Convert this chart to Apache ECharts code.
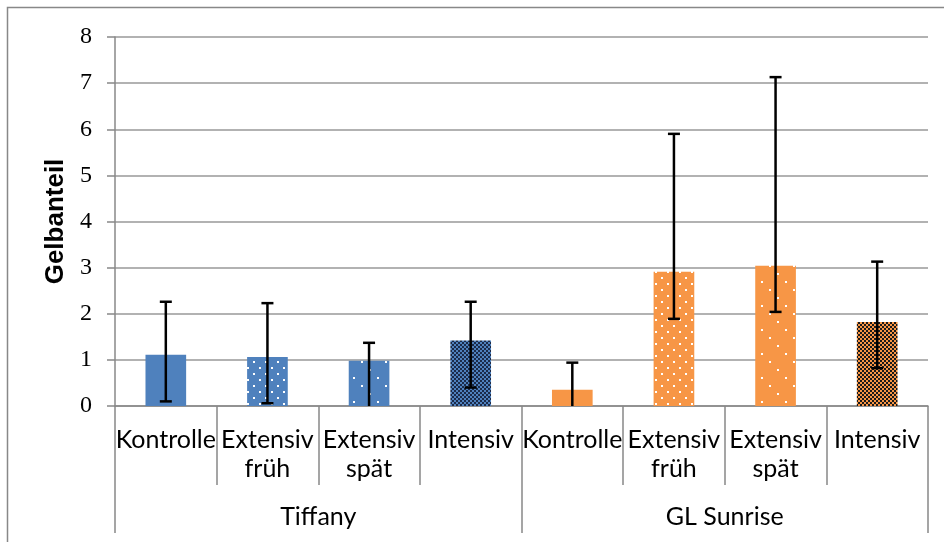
<!DOCTYPE html>
<html>
<head>
<meta charset="utf-8">
<script src="https://cdn.jsdelivr.net/npm/echarts@6/dist/echarts.min.js"></script>
<style>
  html, body { margin: 0; padding: 0; background: #fff; }
  #chart { width: 944px; height: 542px; }
</style>
</head>
<body>
<div id="chart"></div>
<script>
// Treatments per variety and group names
const categories = ['Kontrolle', 'Extensiv\nfrüh', 'Extensiv\nspät', 'Intensiv',
                    'Kontrolle', 'Extensiv\nfrüh', 'Extensiv\nspät', 'Intensiv'];
const groups = ['Tiffany', 'GL Sunrise'];

// Mean yellow share and lower / upper ends of the error bars
const values = [1.11, 1.06, 0.98, 1.42, 0.35, 2.91, 3.04, 1.82];
const errLow = [0.10, 0.06, -0.10, 0.40, -0.24, 1.89, 2.04, 0.82];
const errHigh = [2.26, 2.23, 1.37, 2.26, 0.94, 5.90, 7.13, 3.13];

const yTicks = { min: 0, max: 8, interval: 1 };

const BLUE = '#4F81BD';
const ORANGE = '#F79646';

// Tiled fills: solid, fine dots, sparse dots, checkerboard
function makeTile(w, h, draw) {
  const c = document.createElement('canvas');
  c.width = w; c.height = h;
  const ctx = c.getContext('2d');
  draw(ctx);
  return { image: c, repeat: 'repeat' };
}
function dots(base, size, pts) {
  return makeTile(size, size, ctx => {
    ctx.fillStyle = base; ctx.fillRect(0, 0, size, size);
    ctx.fillStyle = '#fff';
    pts.forEach(p => ctx.fillRect(p[0], p[1], 2, 2));
  });
}
function checker(base, dark) {
  return makeTile(4, 4, ctx => {
    ctx.fillStyle = base; ctx.fillRect(0, 0, 4, 4);
    ctx.fillStyle = dark;
    ctx.fillRect(0, 0, 2, 2); ctx.fillRect(2, 2, 2, 2);
  });
}
function fills(base, dark) {
  return [
    base,
    dots(base, 12, [[1, 1], [7, 7]]),
    dots(base, 24, [[1, 1], [9, 9], [17, 17]]),
    checker(base, dark)
  ];
}
const barFills = fills(BLUE, '#1b2b4a').concat(fills(ORANGE, '#1a1a1a'));

const chart = echarts.init(document.getElementById('chart'), null, { renderer: 'canvas' });

const labelFont = 'Lato, "Noto Sans", sans-serif';

chart.setOption({
  animation: false,
  backgroundColor: '#fff',
  graphic: [{
    type: 'rect',
    shape: { x: 7.5, y: 7.5, width: 1000, height: 1000 },
    style: { fill: 'none', stroke: '#888', lineWidth: 1.5 },
    silent: true
  }],
  grid: { left: 115, right: 16, top: 37, bottom: 136, containLabel: false },
  xAxis: [{
    type: 'category',
    data: categories,
    position: 'bottom',
    axisLine: { show: true, lineStyle: { color: '#888', width: 1.5 } },
    axisTick: { show: true, interval: 0, length: 79, lineStyle: { color: '#888', width: 1.5 } },
    axisLabel: {
      interval: 0, margin: 19, color: '#000',
      fontFamily: labelFont, fontSize: 25, lineHeight: 29
    },
    splitLine: { show: false }
  }, {
    type: 'category',
    data: groups,
    position: 'bottom',
    axisLine: { show: false },
    axisTick: { show: true, interval: 0, length: 127, lineStyle: { color: '#888', width: 1.5 } },
    axisLabel: {
      interval: 0, margin: 96, color: '#000',
      fontFamily: labelFont, fontSize: 25, lineHeight: 29
    },
    splitLine: { show: false }
  }],
  yAxis: {
    type: 'value',
    min: yTicks.min, max: yTicks.max, interval: yTicks.interval,
    name: 'Gelbanteil',
    nameLocation: 'middle',
    nameRotate: 90,
    nameGap: 45,
    nameTextStyle: { fontFamily: '"Liberation Sans", Arial, sans-serif', fontWeight: 'bold', fontSize: 26, color: '#000' },
    axisLine: { show: true, lineStyle: { color: '#888', width: 1.5 } },
    axisTick: { show: true, length: 8, lineStyle: { color: '#888', width: 1.5 } },
    axisLabel: { margin: 23, color: '#000', fontFamily: '"Liberation Serif", "Times New Roman", serif', fontSize: 24 },
    splitLine: { show: true, lineStyle: { color: '#999', width: 1.5 } }
  },
  series: [{
    type: 'bar',
    xAxisIndex: 0,
    barWidth: '40%',
    data: values.map((v, i) => ({ value: v, itemStyle: { color: barFills[i] } })),
    z: 2
  }, {
    type: 'custom',
    xAxisIndex: 0,
    clip: true,
    z: 3,
    data: values.map((v, i) => [i, errLow[i], errHigh[i]]),
    renderItem: function (params, api) {
      const x = api.value(0);
      const lo = api.coord([x, api.value(1)]);
      const hi = api.coord([x, api.value(2)]);
      const half = 6;
      const style = { stroke: '#000', lineWidth: 2.5 };
      return {
        type: 'group',
        children: [
          { type: 'line', shape: { x1: lo[0], y1: lo[1], x2: hi[0], y2: hi[1] }, style: style },
          { type: 'line', shape: { x1: hi[0] - half, y1: hi[1], x2: hi[0] + half, y2: hi[1] }, style: style },
          { type: 'line', shape: { x1: lo[0] - half, y1: lo[1], x2: lo[0] + half, y2: lo[1] }, style: style }
        ]
      };
    }
  }]
});
</script>
</body>
</html>
